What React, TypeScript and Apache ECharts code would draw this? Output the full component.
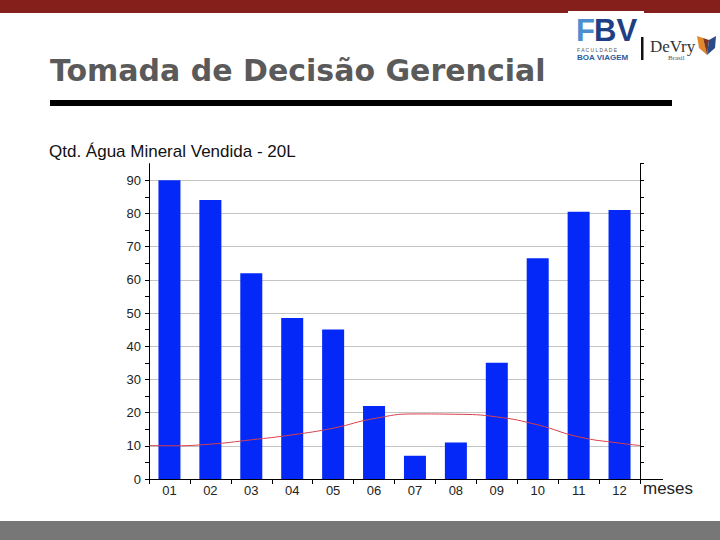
import React, { useEffect, useRef } from 'react';
import * as echarts from 'echarts';

const months = ['01', '02', '03', '04', '05', '06', '07', '08', '09', '10', '11', '12'];
const sales = [90, 84, 62, 48.5, 45, 22, 7, 11, 35, 66.5, 80.5, 81];
const trendMonths = [0.5, 1, 2, 3, 4, 5, 6, 7, 8, 9, 10, 11, 12, 12.5];
const trendValues = [10.1, 10, 10.5, 11.8, 13.3, 15.3, 18.2, 19.6, 19.5, 18.7, 16.3, 12.7, 10.8, 10.1];

const pageTitle = 'Tomada de Decisão Gerencial';
const chartTitle = 'Qtd. Água Mineral Vendida - 20L';
const xName = 'meses';

export default function App() {
  const ref = useRef<HTMLDivElement>(null);
  useEffect(() => {
    if (!ref.current) return;
    const chart = echarts.init(ref.current, undefined, { renderer: 'svg' });
    const font = 'Liberation Sans';
    chart.setOption({
      animation: false,
      backgroundColor: '#ffffff',
      title: {
        text: chartTitle,
        left: 49,
        top: 143,
        padding: 0,
        textStyle: { fontSize: 17, fontWeight: 'normal', color: '#111', fontFamily: font },
      },
      grid: { left: 149, right: 80, top: 163.6, bottom: 61, containLabel: false },
      xAxis: [
        {
          type: 'category',
          data: months,
          boundaryGap: true,
          axisLine: { lineStyle: { color: '#000', width: 1 } },
          axisTick: { show: true, alignWithLabel: false, length: 5, lineStyle: { color: '#000' } },
          axisLabel: { margin: 5, fontSize: 13, color: '#222', fontFamily: font },
          name: xName,
          nameLocation: 'end',
          nameGap: 3,
          nameTextStyle: {
            fontSize: 17,
            color: '#222',
            fontFamily: font,
            verticalAlign: 'top',
            align: 'left',
            padding: [1, 0, 0, 0],
          },
        },
        { type: 'value', min: 0.5, max: 12.5, show: false },
      ],
      yAxis: [
        {
          type: 'value',
          min: 0,
          max: 95,
          interval: 5,
          position: 'left',
          axisLine: { show: true, lineStyle: { color: '#000' } },
          axisTick: { show: true, length: 4, lineStyle: { color: '#000' } },
          axisLabel: {
            formatter: (v: number) => (v % 10 === 0 ? String(v) : ''),
            showMaxLabel: false,
            margin: 8,
            fontSize: 13,
            color: '#222',
            fontFamily: font,
          },
          splitLine: { show: false },
        },
        {
          type: 'value',
          min: 0,
          max: 95,
          interval: 5,
          position: 'right',
          axisLine: { show: true, lineStyle: { color: '#000' } },
          axisTick: { show: true, length: 4, lineStyle: { color: '#000' } },
          axisLabel: { show: false },
          splitLine: { show: false },
        },
        {
          type: 'value',
          min: 0,
          max: 95,
          interval: 10,
          position: 'left',
          axisLine: { show: false },
          axisTick: { show: false },
          axisLabel: { show: false },
          splitLine: { show: true, showMinLine: false, showMaxLine: false, lineStyle: { color: '#c4c4c4', width: 1 } },
        },
      ],
      series: [
        {
          type: 'bar',
          xAxisIndex: 0,
          yAxisIndex: 0,
          data: sales,
          barWidth: 22,
          itemStyle: { color: '#0428f7' },
          z: 2,
        },
        {
          type: 'line',
          xAxisIndex: 1,
          yAxisIndex: 0,
          data: trendMonths.map((m, i) => [m, trendValues[i]]),
          smooth: true,
          symbol: 'none',
          lineStyle: { color: '#d8404c', width: 1 },
          z: 3,
        },
      ],
      graphic: [
        { type: 'rect', shape: { x: 0, y: 0, width: 720, height: 13 }, style: { fill: '#851f1c' }, z: 10 },
        { type: 'rect', shape: { x: 568, y: 11, width: 76, height: 52 }, style: { fill: '#ffffff' }, z: 11 },
        {
          type: 'text', x: 576, y: 30, z: 12,
          style: { text: 'F', fontSize: 31, fontWeight: 'bold', fontFamily: font, fill: '#4b8fd1', verticalAlign: 'middle' },
        },
        {
          type: 'text', x: 594, y: 30, z: 12,
          style: { text: 'BV', fontSize: 31, fontWeight: 'bold', fontFamily: font, fill: '#1f3f85', verticalAlign: 'middle' },
        },
        {
          type: 'text', x: 577, y: 50, z: 12,
          style: { text: 'F A C U L D A D E', fontSize: 5, fontFamily: font, fill: '#555', verticalAlign: 'middle' },
        },
        {
          type: 'text', x: 577, y: 57, z: 12,
          style: { text: 'BOA VIAGEM', fontSize: 8, fontWeight: 'bold', fontFamily: font, fill: '#2c5aa0', verticalAlign: 'middle' },
        },
        { type: 'rect', shape: { x: 641, y: 37, width: 2.5, height: 23 }, style: { fill: '#111' }, z: 12 },
        {
          type: 'text', x: 650, y: 46, z: 12,
          style: { text: 'DeVry', fontSize: 17, fontFamily: 'Liberation Serif', fill: '#333', verticalAlign: 'middle' },
        },
        {
          type: 'text', x: 668, y: 58, z: 12,
          style: { text: 'Brasil', fontSize: 7, fontFamily: 'Liberation Serif', fill: '#555', verticalAlign: 'middle' },
        },
        {
          type: 'polygon', z: 12,
          shape: { points: [[697, 36], [703, 38], [707, 55], [699, 48]] },
          style: { fill: '#e0892c' },
        },
        {
          type: 'polygon', z: 12,
          shape: { points: [[703, 38], [709, 40], [707, 55]] },
          style: { fill: '#7a3620' },
        },
        {
          type: 'polygon', z: 12,
          shape: { points: [[709, 40], [716, 36], [715, 48], [707, 55]] },
          style: { fill: '#2a4a8a' },
        },
        {
          type: 'text', x: 50, y: 70, z: 12,
          style: { text: pageTitle, fontSize: 30, fontWeight: 'bold', fontFamily: 'DejaVu Sans', fill: '#5a5a5a', verticalAlign: 'middle' },
        },
        { type: 'rect', shape: { x: 50, y: 100, width: 622, height: 6 }, style: { fill: '#000' }, z: 12 },
        { type: 'rect', shape: { x: 0, y: 521, width: 720, height: 19 }, style: { fill: '#777777' }, z: 12 },
        { type: 'line', shape: { x1: 640, y1: 479.5, x2: 663, y2: 479.5 }, style: { stroke: '#000', lineWidth: 1 }, z: 12 },
      ],
    });
    return () => chart.dispose();
  }, []);
  return <div ref={ref} style={{ position: 'fixed', left: 0, top: 0, width: 720, height: 540 }} />;
}
